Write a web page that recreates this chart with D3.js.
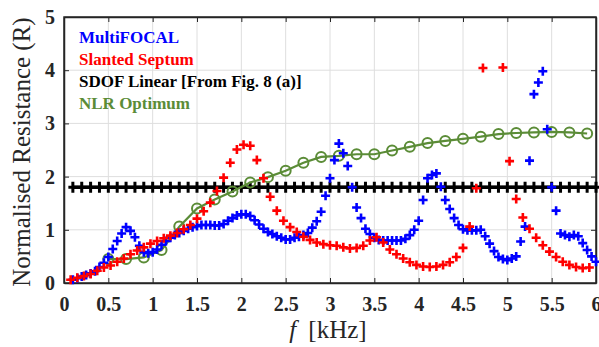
<!DOCTYPE html>
<html>
<head>
<meta charset="utf-8">
<script src="https://cdn.jsdelivr.net/npm/d3@7"></script>
<style>
  body { margin: 0; background: #fff; }
  svg { display: block; }
</style>
</head>
<body>
<svg id="chart" width="599" height="347" font-family="Liberation Serif"></svg>
<script>
// tick labels
const xTicks = [0, 0.5, 1, 1.5, 2, 2.5, 3, 3.5, 4, 4.5, 5, 5.5, 6];
const yTicks = [0, 1, 2, 3, 4, 5];

// MultiFOCAL (blue)
const blueF = [0.10, 0.15, 0.20, 0.25, 0.30, 0.35, 0.40, 0.45, 0.50, 0.55, 0.60, 0.65, 0.70, 0.75, 0.80, 0.85, 0.90, 0.95,
  1.00, 1.05, 1.10, 1.15, 1.20, 1.25, 1.30, 1.35, 1.40, 1.45, 1.50, 1.55, 1.60, 1.65, 1.70, 1.75, 1.80, 1.85, 1.90, 1.95,
  2.00, 2.05, 2.10, 2.15, 2.20, 2.25, 2.30, 2.35, 2.40, 2.45, 2.50, 2.55, 2.60, 2.65, 2.70, 2.75, 2.80, 2.85, 2.90, 2.95,
  3.00, 3.05, 3.10, 3.15, 3.20, 3.25, 3.30, 3.35, 3.40, 3.45, 3.50, 3.55, 3.60, 3.65, 3.70, 3.75, 3.80, 3.85, 3.90, 3.95,
  4.00, 4.05, 4.10, 4.15, 4.20, 4.25, 4.30, 4.35, 4.40, 4.45, 4.50, 4.55, 4.60, 4.65, 4.70, 4.75, 4.80, 4.85, 4.90, 4.95,
  5.00, 5.05, 5.10, 5.15, 5.20, 5.25, 5.30, 5.35, 5.40, 5.45, 5.50, 5.55, 5.60, 5.65, 5.70, 5.75, 5.80, 5.85, 5.90, 5.95, 6.00];
const blueR = [0.06, 0.09, 0.12, 0.15, 0.18, 0.22, 0.30, 0.38, 0.49, 0.64, 0.79, 0.93, 1.05, 0.98, 0.86, 0.70, 0.58, 0.56,
  0.58, 0.63, 0.72, 0.79, 0.85, 0.90, 0.94, 0.98, 1.02, 1.05, 1.07, 1.09, 1.09, 1.09, 1.08, 1.08, 1.11, 1.17, 1.22, 1.27,
  1.29, 1.29, 1.26, 1.18, 1.10, 1.02, 0.96, 0.92, 0.88, 0.85, 0.82, 0.82, 0.85, 0.87, 0.90, 0.94, 1.04, 1.16, 1.34, 1.64,
  1.97, 2.31, 2.62, 2.44, 2.20, 1.80, 1.42, 1.22, 1.02, 0.92, 0.85, 0.81, 0.80, 0.80, 0.80, 0.80, 0.80, 0.83, 0.90, 1.00,
  1.17, 1.56, 1.97, 2.03, 2.06, 1.81, 1.56, 1.39, 1.22, 1.09, 1.01, 0.99, 0.99, 0.99, 1.00, 0.88, 0.74, 0.60, 0.49, 0.45,
  0.43, 0.46, 0.50, 0.78, 1.06, 2.30, 3.55, 3.77, 3.98, 2.89, 1.80, 1.36, 0.93, 0.90, 0.87, 0.90, 0.88, 0.75, 0.62, 0.50, 0.40];

// Slanted Septum (red)
const redF = [0.075, 0.15, 0.225, 0.3, 0.375, 0.45, 0.525, 0.6, 0.675, 0.75, 0.825, 0.9, 0.975, 1.05, 1.125, 1.2, 1.275,
  1.35, 1.425, 1.5, 1.575, 1.65, 1.725, 1.8, 1.875, 1.95, 2.025, 2.1, 2.175, 2.25, 2.325, 2.4, 2.475, 2.55, 2.625, 2.7,
  2.775, 2.85, 2.925, 3.0, 3.075, 3.15, 3.225, 3.3, 3.375, 3.45, 3.525, 3.6, 3.675, 3.75, 3.825, 3.9, 3.975, 4.05, 4.125,
  4.2, 4.275, 4.35, 4.425, 4.5, 4.575, 4.65, 4.725, 4.95, 5.025, 5.1, 5.175, 5.25, 5.325, 5.4, 5.475, 5.55, 5.625, 5.7,
  5.775, 5.85, 5.925];
const redR = [0.06, 0.10, 0.13, 0.17, 0.23, 0.29, 0.33, 0.40, 0.46, 0.54, 0.61, 0.67, 0.74, 0.79, 0.84, 0.89, 0.94,
  1.01, 1.09, 1.21, 1.35, 1.51, 1.73, 1.98, 2.26, 2.51, 2.60, 2.58, 2.31, 1.97, 1.62, 1.36, 1.17, 1.05, 0.96, 0.87,
  0.81, 0.76, 0.73, 0.71, 0.70, 0.67, 0.65, 0.66, 0.70, 0.80, 0.86, 0.76, 0.63, 0.54, 0.46, 0.39, 0.34, 0.31, 0.30,
  0.31, 0.34, 0.39, 0.49, 0.66, 1.06, 1.78, 4.04, 4.05, 2.29, 1.58, 1.23, 1.02, 0.85, 0.71, 0.59, 0.49, 0.40, 0.34,
  0.30, 0.28, 0.29];

// SDOF Linear (black)
const blackF = [0.1, 0.2, 0.3, 0.4, 0.5, 0.6, 0.7, 0.8, 0.9, 1.0, 1.1, 1.2, 1.3, 1.4, 1.5, 1.6, 1.7, 1.8, 1.9, 2.0,
  2.1, 2.2, 2.3, 2.4, 2.5, 2.6, 2.7, 2.8, 2.9, 3.0, 3.1, 3.2, 3.3, 3.4, 3.5, 3.6, 3.7, 3.8, 3.9, 4.0,
  4.1, 4.2, 4.3, 4.4, 4.5, 4.6, 4.7, 4.8, 4.9, 5.0, 5.1, 5.2, 5.3, 5.4, 5.5, 5.6, 5.7, 5.8, 5.9, 6.0];
const blackR = [1.8, 1.8, 1.8, 1.8, 1.8, 1.8, 1.8, 1.8, 1.8, 1.8, 1.8, 1.8, 1.8, 1.8, 1.8, 1.8, 1.8, 1.8, 1.8, 1.8,
  1.8, 1.8, 1.8, 1.8, 1.8, 1.8, 1.8, 1.8, 1.8, 1.8, 1.8, 1.8, 1.8, 1.8, 1.8, 1.8, 1.8, 1.8, 1.8, 1.8,
  1.8, 1.8, 1.8, 1.8, 1.8, 1.8, 1.8, 1.8, 1.8, 1.8, 1.8, 1.8, 1.8, 1.8, 1.8, 1.8, 1.8, 1.8, 1.8, 1.8];

// NLR Optimum (green)
const greenF = [0.5, 0.7, 0.9, 1.1, 1.3, 1.5, 1.7, 1.9, 2.1, 2.3, 2.5, 2.7, 2.9, 3.1, 3.3, 3.5, 3.7, 3.9, 4.1, 4.3,
  4.5, 4.7, 4.9, 5.1, 5.3, 5.5, 5.7, 5.9];
const greenR = [0.45, 0.45, 0.48, 0.62, 1.06, 1.40, 1.57, 1.72, 1.89, 1.99, 2.11, 2.26, 2.37, 2.39, 2.42, 2.42, 2.49,
  2.56, 2.63, 2.67, 2.71, 2.75, 2.80, 2.82, 2.83, 2.84, 2.83, 2.81];

const legendNames = ['MultiFOCAL', 'Slanted Septum', 'SDOF Linear [From Fig. 8 (a)]', 'NLR Optimum'];
const BLUE = '#0000ff', RED = '#ff0000', BLACK = '#000000', GREEN = '#5b8c37';
const legendColors = [BLUE, RED, BLACK, GREEN];
const SERIF = 'Liberation Serif';

const margin = { top: 17, right: 3, bottom: 64, left: 64 };
const svg = d3.select('#chart');
const width = +svg.attr('width');
const height = +svg.attr('height');

const x = d3.scaleLinear().domain([0, 6]).range([margin.left, width - margin.right]);
const y = d3.scaleLinear().domain([0, 5]).range([height - margin.bottom, margin.top]);

const zip = (a, b) => a.map((v, i) => ({ f: v, r: b[i] }));

// grid
svg.append('g')
  .selectAll('line')
  .data(xTicks.slice(1, -1))
  .join('line')
  .attr('x1', d => x(d)).attr('x2', d => x(d))
  .attr('y1', y(0)).attr('y2', y(5))
  .attr('stroke', '#dedede').attr('stroke-width', 1);
svg.append('g')
  .selectAll('line')
  .data(yTicks.slice(1, -1))
  .join('line')
  .attr('x1', x(0)).attr('x2', x(6))
  .attr('y1', d => y(d)).attr('y2', d => y(d))
  .attr('stroke', '#dedede').attr('stroke-width', 1);

// axes (ticks inward, all four sides)
const xAxis = svg.append('g')
  .attr('transform', 'translate(0,' + y(0) + ')')
  .call(d3.axisBottom(x).tickValues(xTicks).tickSizeInner(-5).tickSizeOuter(0).tickPadding(14).tickFormat(d3.format('')));
const yAxis = svg.append('g')
  .attr('transform', 'translate(' + x(0) + ',0)')
  .call(d3.axisLeft(y).tickValues(yTicks).tickSizeInner(-5).tickSizeOuter(0).tickPadding(9).tickFormat(d3.format('d')));
svg.append('g')
  .attr('transform', 'translate(0,' + y(5) + ')')
  .call(d3.axisTop(x).tickValues(xTicks).tickSizeInner(-5).tickSizeOuter(0).tickFormat(''));
svg.append('g')
  .attr('transform', 'translate(' + x(6) + ',0)')
  .call(d3.axisRight(y).tickValues(yTicks).tickSizeInner(-5).tickSizeOuter(0).tickFormat(''));

svg.selectAll('.domain').attr('stroke', '#262626').attr('stroke-width', 1.5);
svg.selectAll('.tick line').attr('stroke', '#262626').attr('stroke-width', 1);
[xAxis, yAxis].forEach(a => {
  a.attr('font-family', SERIF).attr('font-size', 20).attr('font-weight', 'bold');
  a.selectAll('text').attr('fill', '#262626');
});

// frame
svg.append('rect')
  .attr('x', x(0)).attr('y', y(5))
  .attr('width', x(6) - x(0)).attr('height', y(0) - y(5))
  .attr('fill', 'none').attr('stroke', '#262626').attr('stroke-width', 1.5);

const plusPath = (s, v) => 'M' + (-s) + ',0H' + s + 'M0,' + (-v) + 'V' + v;

// SDOF Linear
const blackData = zip(blackF, blackR);
svg.append('path')
  .datum(blackData)
  .attr('fill', 'none').attr('stroke', BLACK).attr('stroke-width', 3.5)
  .attr('d', d3.line().x(d => x(d.f)).y(d => y(d.r)));
svg.append('g').selectAll('path')
  .data(blackData)
  .join('path')
  .attr('transform', d => 'translate(' + x(d.f) + ',' + y(d.r) + ')')
  .attr('d', plusPath(4.5, 5.5))
  .attr('stroke', BLACK).attr('stroke-width', 3).attr('fill', 'none');

// NLR Optimum
const greenData = zip(greenF, greenR);
svg.append('path')
  .datum(greenData)
  .attr('fill', 'none').attr('stroke', GREEN).attr('stroke-width', 2.2)
  .attr('d', d3.line().x(d => x(d.f)).y(d => y(d.r)));
svg.append('g').selectAll('circle')
  .data(greenData)
  .join('circle')
  .attr('cx', d => x(d.f)).attr('cy', d => y(d.r)).attr('r', 5)
  .attr('fill', 'none').attr('stroke', GREEN).attr('stroke-width', 2);

// MultiFOCAL
svg.append('g').selectAll('path')
  .data(zip(blueF, blueR))
  .join('path')
  .attr('transform', d => 'translate(' + x(d.f) + ',' + y(d.r) + ')')
  .attr('d', plusPath(4.5, 4.5))
  .attr('stroke', BLUE).attr('stroke-width', 2.6).attr('fill', 'none');

// Slanted Septum
svg.append('g').selectAll('path')
  .data(zip(redF, redR))
  .join('path')
  .attr('transform', d => 'translate(' + x(d.f) + ',' + y(d.r) + ')')
  .attr('d', plusPath(4.5, 4.5))
  .attr('stroke', RED).attr('stroke-width', 2.6).attr('fill', 'none');

// legend (text only)
svg.append('g').selectAll('text')
  .data(legendNames)
  .join('text')
  .attr('x', 79)
  .attr('y', (d, i) => 43 + i * 22)
  .attr('font-family', SERIF)
  .attr('font-weight', 'bold')
  .attr('font-size', 17)
  .attr('fill', (d, i) => legendColors[i])
  .text(d => d);

// axis titles
svg.append('text')
  .attr('transform', 'translate(30,' + ((y(0) + y(5)) / 2 + 2) + ') rotate(-90)')
  .attr('text-anchor', 'middle')
  .attr('font-family', SERIF)
  .attr('font-size', 25)
  .attr('fill', '#262626')
  .text('Normalised Resistance (R)');

const xt = svg.append('text')
  .attr('x', (x(0) + x(6)) / 2 - 2)
  .attr('y', 338)
  .attr('text-anchor', 'middle')
  .attr('font-family', SERIF)
  .attr('font-size', 25)
  .attr('fill', '#262626');
xt.append('tspan').attr('font-style', 'italic').text('f');
xt.append('tspan').attr('dx', 12).text('[kHz]');
</script>
</body>
</html>
